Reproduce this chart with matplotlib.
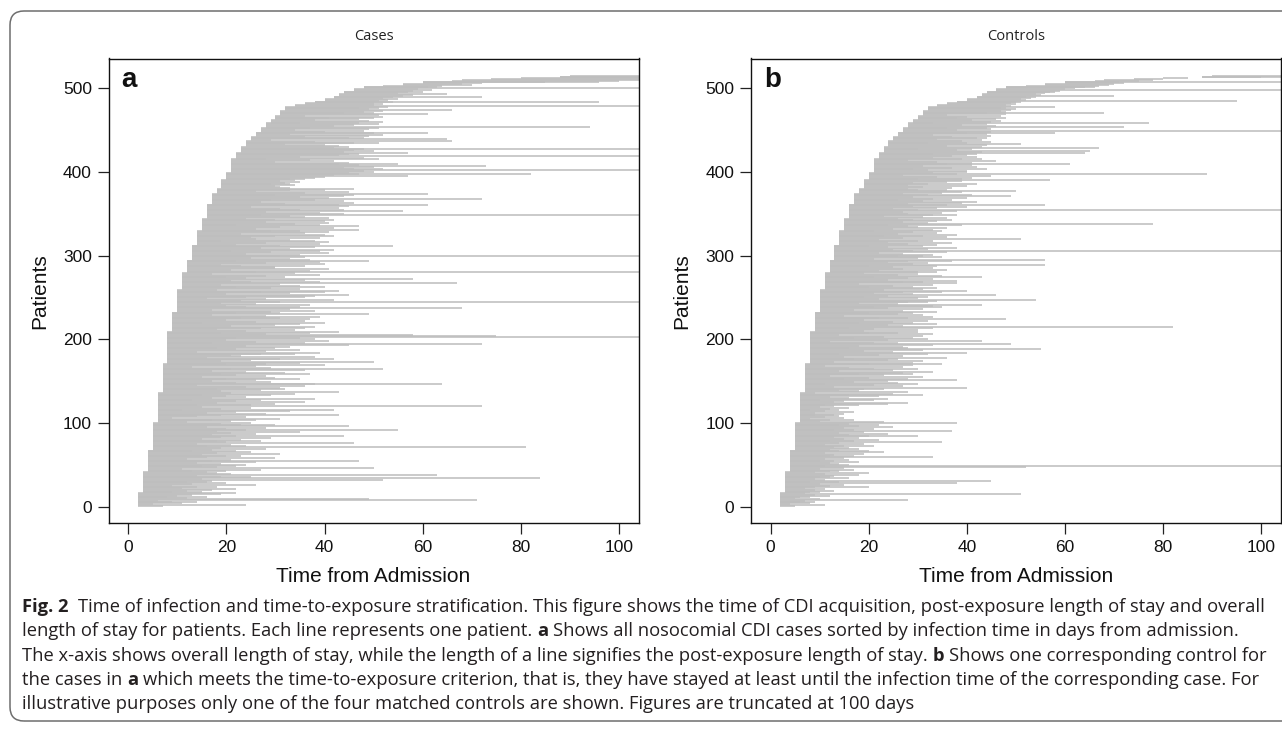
import numpy as np
import matplotlib
matplotlib.use("Agg")
import matplotlib.pyplot as plt
from matplotlib.patches import FancyBboxPatch
from matplotlib.transforms import IdentityTransform
from matplotlib import font_manager

# ---------------- data ----------------
# infection / matching time in days (staircase), and cumulative patient count reached
start_days = [2, 3, 4, 5, 6, 7, 8, 9, 10, 11, 12, 13, 14, 15, 16, 17, 18, 19, 20, 21,
              22, 23, 24, 25, 26, 27, 28, 29, 30, 31, 32, 34, 36, 38, 40, 42, 43, 44,
              46, 48, 52, 56, 60, 66, 68, 74, 80, 88, 90]
start_cum = [16, 41, 67, 100, 136, 170, 209, 232, 259, 279, 294, 312, 329, 344, 361,
             374, 380, 390, 399, 415, 423, 430, 437, 442, 447, 452, 458, 462, 467, 473,
             478, 480, 482, 484, 487, 490, 493, 496, 499, 502, 503, 505, 508, 509, 510,
             511, 512, 514, 515]

# overall length of stay (end of line, days) for each case, sorted as plotted
end_cases = [
    7, 24, 5, 11, 9, 14, 6, 71, 49, 12,
    8, 16, 10, 13, 19, 22, 9, 15, 12, 17,
    22, 11, 14, 18, 9, 26, 13, 20, 16, 12,
    17, 52, 15, 84, 19, 25, 14, 63, 21, 18,
    16, 13, 20, 27, 11, 50, 18, 22, 15, 24,
    19, 14, 26, 17, 47, 21, 12, 30, 16, 23,
    20, 15, 31, 18, 25, 13, 22, 17, 28, 19,
    81, 16, 24, 21, 14, 46, 20, 27, 18, 23,
    15, 29, 19, 22, 44, 17, 26, 21, 35, 18,
    24, 55, 20, 28, 16, 45, 23, 30, 19, 25,
    12, 21, 26, 17, 31, 9, 24, 14, 19, 43,
    28, 16, 22, 33, 11, 42, 19, 25, 15, 72,
    25, 14, 30, 18, 36, 22, 13, 27, 38, 17,
    24, 20, 29, 15, 34, 21, 43, 19, 27, 32,
    18, 31, 24, 36, 14, 64, 38, 22, 29, 17,
    26, 35, 20, 30, 15, 28, 22, 37, 19, 32,
    24, 17, 36, 52, 21, 29, 13, 26, 40, 20,
    28, 35, 50, 19, 25, 42, 31, 16, 38, 23,
    21, 34, 27, 39, 14, 28, 35, 22, 30, 18,
    33, 24, 45, 72, 17, 36, 26, 41, 20, 38,
    35, 22, 130, 75, 58, 28, 37, 19, 43, 24,
    34, 18, 36, 27, 38, 21, 30, 35, 15, 40,
    26, 36, 20, 37, 31, 23, 39, 28, 17, 49,
    31, 22, 29, 38, 17, 33, 68, 24, 35, 20,
    37, 26, 19, 31, 130, 23, 42, 28, 16, 36,
    24, 38, 45, 20, 33, 27, 40, 43, 18, 35,
    29, 22, 40, 35, 19, 31, 67, 25, 39, 21,
    36, 58, 24, 32, 20, 28, 39, 17, 34, 130,
    26, 37, 21, 41, 30, 30, 23, 36, 19, 40,
    28, 39, 49, 22, 37, 33, 25, 36, 130, 31,
    35, 24, 41, 29, 39, 21, 42, 33, 27, 38,
    31, 54, 22, 39, 28, 41, 19, 38, 33, 26,
    39, 25, 42, 30, 40, 23, 36, 41, 29, 35,
    47, 26, 42, 31, 47, 22, 39, 34, 41, 28,
    40, 30, 42, 24, 41, 36, 33, 130, 27, 44,
    39, 28, 56, 35, 44, 31, 43, 25, 45, 61,
    43, 32, 46, 27, 44, 38, 29, 72, 41, 35,
    44, 30, 46, 61, 36, 45, 26, 40, 33, 46,
    33, 31, 30, 34, 33, 29, 32, 35, 31, 34,
    36, 33, 38, 40, 57, 42, 47, 82, 45, 50,
    48, 130, 52, 46, 44, 50, 73, 47, 43, 55,
    45, 30, 42, 37, 51, 28, 48, 35, 130, 43,
    47, 45, 57, 44, 50, 46, 48, 130, 42, 45,
    43, 40, 32, 46, 51, 38, 66, 29, 65, 45,
    48, 36, 49, 52, 33, 50, 61, 40, 48, 34,
    49, 37, 51, 94, 42, 46, 51, 35, 47, 52,
    49, 38, 47, 50, 41, 52, 36, 51, 61, 44,
    50, 48, 52, 66, 49, 51, 47, 53, 130, 50,
    52, 50, 54, 96, 51, 53, 55, 52, 72, 54,
    56, 58, 65, 55, 57, 60, 58, 62, 59, 130,
    61, 63, 64, 70, 68, 72, 85, 96, 100, 130,
    130, 130, 130, 130, 130,
]

# overall length of stay for one matched control per case
end_controls = [
    5, 11, 4, 8, 6, 9, 7, 28, 10, 5,
    8, 6, 12, 9, 51, 7, 10, 8, 13, 9,
    11, 7, 20, 9, 12, 15, 10, 38, 8, 14,
    45, 11, 9, 16, 12, 10, 13, 18, 11, 20,
    9, 14, 12, 17, 10, 15, 52, 130, 11, 16,
    14, 12, 18, 10, 13, 16, 11, 15, 33, 12,
    17, 13, 19, 11, 23, 14, 20, 12, 18, 16,
    13, 21, 15, 11, 19, 14, 35, 17, 12, 22,
    15, 18, 13, 30, 20, 16, 24, 14, 19, 37,
    17, 13, 21, 15, 25, 18, 14, 22, 16, 38,
    23, 10, 17, 12, 8, 15, 11, 14, 9, 13,
    15, 9, 17, 11, 14, 8, 12, 16, 10, 13,
    18, 11, 24, 28, 13, 15, 21, 10, 24, 16,
    12, 22, 31, 16, 25, 9, 28, 18, 14, 23,
    19, 40, 13, 27, 21, 30, 11, 26, 17, 24,
    38, 15, 28, 20, 31, 12, 23, 29, 18, 27,
    33, 14, 25, 21, 30, 16, 27, 11, 29, 35,
    20, 29, 13, 31, 24, 17, 26, 36, 15, 27,
    22, 32, 14, 40, 25, 19, 31, 55, 16, 28,
    27, 18, 33, 49, 21, 26, 12, 43, 24, 32,
    17, 29, 23, 31, 14, 33, 26, 20, 30, 19,
    30, 21, 33, 16, 82, 27, 24, 34, 18, 29,
    25, 32, 19, 48, 28, 22, 33, 15, 31, 26,
    29, 20, 34, 27, 17, 31, 24, 35, 21, 33,
    43, 26, 18, 32, 28, 34, 54, 22, 30, 19,
    32, 24, 46, 29, 21, 35, 27, 40, 23, 31,
    34, 20, 29, 25, 33, 18, 38, 27, 31, 38,
    24, 33, 28, 21, 43, 35, 26, 30, 19, 34,
    30, 22, 36, 27, 33, 25, 34, 20, 56, 29,
    32, 24, 37, 28, 56, 21, 30, 35, 26, 31,
    33, 27, 22, 36, 29, 130, 25, 32, 38, 24,
    31, 20, 34, 28, 37, 24, 33, 30, 22, 51,
    27, 36, 23, 31, 38, 26, 34, 29, 21, 35,
    33, 25, 36, 30, 28, 39, 24, 78, 32, 27,
    34, 29, 37, 26, 36, 31, 23, 38, 33, 28,
    35, 27, 38, 30, 130, 25, 34, 40, 29, 56,
    36, 28, 39, 42, 31, 26, 37, 33, 40, 29,
    49, 32, 41, 27, 35, 39, 50, 30, 36, 28,
    37, 31, 40, 28, 32, 42, 29, 36, 39, 57,
    39, 30, 41, 34, 45, 27, 38, 89, 33, 40,
    40, 32, 44, 29, 37, 42, 31, 41, 36, 61,
    41, 34, 46, 28, 39, 43, 33, 42, 37, 40,
    42, 33, 64, 43, 65, 38, 41, 30, 67, 43,
    36, 44, 51, 40, 32, 45, 39, 43, 34, 42,
    44, 37, 45, 33, 44, 58, 40, 45, 130, 38,
    45, 36, 44, 72, 46, 39, 44, 33, 77, 45,
    47, 41, 46, 48, 38, 40, 47, 36, 48, 44,
    68, 48, 47, 49, 50, 48, 47, 58, 49, 48,
    50, 49, 51, 50, 95, 52, 51, 53, 52, 54,
    70, 55, 54, 56, 58, 57, 59, 130, 60, 62,
    66, 64, 67, 69, 70, 72, 71, 130, 75, 78,
    80, 85, 100, 130, 130,
]

panel_titles = ["Cases", "Controls"]
panel_letters = ["a", "b"]
x_ticks = [0, 20, 40, 60, 80, 100]
y_ticks = [0, 100, 200, 300, 400, 500]
x_label = "Time from Admission"
y_label = "Patients"

caption_lines = [
    [("Fig. 2", True, 2), ("Time of infection and time-to-exposure stratification. This figure shows the time of CDI acquisition, post-exposure length of stay and overall", False, 0)],
    [("length of stay for patients. Each line represents one patient.", False, 1), ("a", True, 1), ("Shows all nosocomial CDI cases sorted by infection time in days from admission.", False, 0)],
    [("The x-axis shows overall length of stay, while the length of a line signifies the post-exposure length of stay.", False, 1), ("b", True, 1), ("Shows one corresponding control for", False, 0)],
    [("the cases in", False, 1), ("a", True, 1), ("which meets the time-to-exposure criterion, that is, they have stayed at least until the infection time of the corresponding case. For", False, 0)],
    [("illustrative purposes only one of the four matched controls are shown. Figures are truncated at 100 days", False, 0)],
]

# ---------------- figure ----------------
W, H, DPI = 1282, 736, 100
plt.rcParams["font.family"] = ["Liberation Sans", "DejaVu Sans"]
fig = plt.figure(figsize=(W / DPI, H / DPI), dpi=DPI)
fig.patch.set_facecolor("white")

counts = np.diff(np.concatenate([[0], start_cum]))
starts = np.repeat(start_days, counts)
n = len(starts)
patients = np.arange(1, n + 1)

line_color = "#BEBEBE"
ax_w = 530 / W
ax_h = (523 - 58.5) / H
ax_b = 1 - 523 / H
lefts = [108.6 / W, 751 / W]

for k, ends in enumerate([end_cases, end_controls]):
    ax = fig.add_axes([lefts[k], ax_b, ax_w, ax_h])
    ax.hlines(patients, starts, np.asarray(ends), colors=line_color,
              linewidth=1.15, capstyle="butt")
    ax.set_xlim(-4, 104)
    pad = 0.04 * (n - 1)
    ax.set_ylim(1 - pad, n + pad)
    ax.set_xticks(x_ticks)
    ax.set_yticks(y_ticks)
    ax.tick_params(direction="out", length=8, width=0.9, labelsize=12.5,
                   pad=4, colors="#222222", labelcolor="#111111")
    for sp in ax.spines.values():
        sp.set_linewidth(1.0)
        sp.set_color("#111111")
    ax.set_xlabel(x_label, fontsize=15, labelpad=9, color="#111111")
    ax.set_ylabel(y_label, fontsize=15, labelpad=10, color="#111111")
    ax.text(13 / 530, 1 - (87 - 58.5) / (523 - 58.5), panel_letters[k],
            transform=ax.transAxes, fontsize=20, fontweight="bold",
            ha="left", va="baseline", color="#111111")
    cx = lefts[k] + ax_w / 2
    fig.text(cx, 1 - 37 / H, panel_titles[k], ha="center", va="center",
             fontsize=10.5, family=["Open Sans", "DejaVu Sans"], color="#222222")

# rounded frame around figure + caption
frame = FancyBboxPatch((10, 15), 1320, 736 - 11 - 15,
                       boxstyle="round,pad=0,rounding_size=14",
                       transform=IdentityTransform(), facecolor="none",
                       edgecolor="#6e6e6e", linewidth=1.1)
fig.patches.append(frame)

# caption font
def has_font(name):
    try:
        font_manager.findfont(font_manager.FontProperties(family=name),
                              fallback_to_default=False)
        return True
    except Exception:
        return False

cap_family = None
for cand in ["Liberation Sans Narrow", "Open Sans", "Lato", "Noto Sans"]:
    if has_font(cand):
        cap_family = cand
        break
if cap_family is None:
    cap_family = "DejaVu Sans"

renderer = fig.canvas.get_renderer()

def text_width(s, fs, bold):
    t = fig.text(0, 0, s, fontsize=fs, family=cap_family,
                 fontweight="bold" if bold else "normal")
    w = t.get_window_extent(renderer).width
    t.remove()
    return w

def line_width(pieces, fs):
    sp = text_width("x x", fs, False) - text_width("xx", fs, False)
    total = 0
    for s, b, gap in pieces:
        total += text_width(s, fs, b) + gap * sp
    return total

target = 1266 - 22
fs = 10.0
w0 = line_width(caption_lines[0], fs)
fs = fs * target / w0

sp_w = text_width("x x", fs, False) - text_width("xx", fs, False)
baselines = [612, 636.3, 660.6, 684.9, 709.2]
for pieces, yb in zip(caption_lines, baselines):
    x = 22
    for s, b, gap in pieces:
        t = fig.text(x / W, 1 - yb / H, s, fontsize=fs, family=cap_family,
                     fontweight="bold" if b else "normal", ha="left",
                     va="baseline", color="#231f20")
        x += t.get_window_extent(renderer).width + gap * sp_w

fig.savefig("out.png", dpi=DPI, facecolor="white")
